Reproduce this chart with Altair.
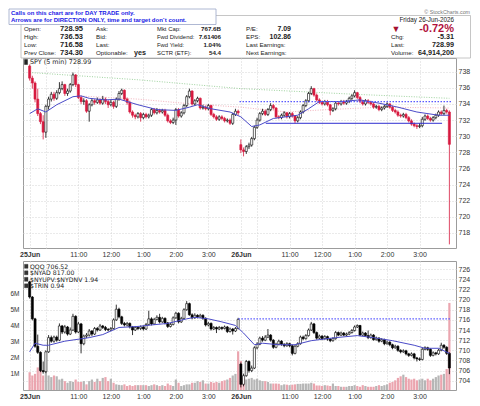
import altair as alt
import pandas as pd

# ---------------- data ----------------
N = 156  # 5-minute bars, 25 Jun + 26 Jun
spy_close = [
    737.2, 736.6, 734.6, 732.8, 731.8, 730.5, 733.7, 734.6, 735.2, 734.7, 735.4, 735.9,
    736.4, 735.3, 735.6, 736.4, 737.6, 736.4, 734.8, 734.3, 734.4, 733.1, 733.9, 734.4,
    734.2, 734.5, 734.1, 734.6, 734.3, 733.9, 734.2, 733.7, 734.6, 735.3, 735.7, 734.6,
    734.2, 733.0, 732.6, 732.4, 732.8, 732.3, 732.7, 732.4, 732.6, 733.3, 732.9, 733.2,
    733.0, 733.2, 732.6, 731.9, 731.7, 732.0, 733.3, 732.5, 732.9, 733.8, 734.9, 735.6,
    734.0, 734.4, 734.7, 733.5, 733.6, 733.4, 733.8, 732.7, 732.4, 732.1, 732.4, 732.2,
    731.9, 732.0, 731.6, 732.7, 733.1, 732.9,
    728.3, 728.1, 728.7, 728.9, 729.7, 731.1, 732.0, 732.8, 733.1, 732.7, 733.3, 733.8,
    733.5, 732.4, 732.3, 732.6, 732.9, 732.4, 732.8, 732.5, 731.9, 732.3, 733.0, 733.8,
    734.4, 735.3, 735.9, 735.1, 734.5, 734.2, 734.0, 734.3, 733.9, 733.2, 733.4, 734.1,
    734.0, 734.3, 734.1, 734.3, 734.7, 735.0, 735.4, 734.8, 734.3, 734.0, 734.4, 734.2,
    734.0, 733.6, 733.7, 733.3, 733.5, 733.7, 734.0, 733.6, 733.2, 733.0, 732.6, 732.5,
    732.7, 732.3, 731.9, 731.5, 731.3, 731.2, 731.3, 732.1, 732.5, 732.2, 732.0, 732.3,
    732.6, 733.0, 732.8, 733.2, 733.0, 728.99]
spy_high = [
    738.9, 737.5, 736.8, 735.9, 733.0, 732.6, 733.9, 734.9, 735.5, 735.5, 735.7, 736.7,
    736.8, 736.5, 735.9, 736.6, 737.9, 737.7, 736.5, 735.0, 734.7, 734.6, 734.1, 734.7,
    734.6, 734.8, 734.7, 735.0, 734.8, 734.5, 734.5, 734.4, 734.8, 735.6, 735.9, 735.8,
    734.8, 734.4, 733.2, 732.8, 733.0, 733.0, 732.9, 732.9, 732.8, 733.5, 733.5, 733.5,
    733.4, 733.4, 733.4, 732.8, 732.1, 732.3, 733.5, 733.5, 733.1, 734.0, 735.1, 735.9,
    735.7, 734.6, 734.9, 734.8, 733.9, 733.8, 734.0, 733.9, 732.9, 732.6, 732.6, 732.6,
    732.4, 732.2, 732.2, 732.9, 733.4, 733.3,
    729.6, 728.6, 728.9, 729.2, 729.9, 731.3, 732.3, 733.0, 733.4, 733.3, 733.5, 734.1,
    734.0, 733.6, 732.6, 732.8, 733.1, 733.0, 733.0, 733.0, 732.6, 732.5, 733.2, 734.0,
    734.6, 735.5, 736.2, 736.0, 735.3, 734.7, 734.4, 734.5, 734.5, 734.0, 733.6, 734.3,
    734.3, 734.5, 734.5, 734.5, 734.9, 735.2, 735.7, 735.5, 735.0, 734.5, 734.6, 734.6,
    734.4, 734.2, 733.9, 733.9, 733.7, 733.9, 734.2, 734.1, 733.8, 733.4, 733.2, 732.8,
    732.9, 732.9, 732.5, 732.1, 731.7, 731.5, 731.6, 732.4, 732.7, 732.7, 732.4, 732.5,
    732.8, 733.2, 733.2, 733.8, 733.4, 733.2]
spy_low = [
    736.9, 735.9, 734.2, 732.5, 731.5, 729.6, 729.8, 733.3, 734.3, 734.4, 734.5, 735.2,
    735.7, 735.0, 735.0, 735.4, 736.2, 736.1, 734.6, 734.0, 733.9, 732.9, 731.8, 733.7,
    733.9, 734.0, 733.9, 733.9, 734.0, 733.5, 733.7, 733.4, 733.5, 734.4, 735.1, 734.4,
    733.9, 732.8, 732.3, 732.1, 732.2, 731.8, 732.1, 732.2, 732.2, 732.4, 732.7, 732.7,
    732.8, 732.8, 732.4, 731.7, 731.5, 731.5, 731.4, 732.3, 732.3, 732.7, 733.6, 734.7,
    733.8, 733.8, 734.2, 733.3, 733.3, 733.2, 733.2, 732.5, 732.2, 731.9, 731.9, 732.0,
    731.7, 731.7, 731.4, 731.4, 732.5, 732.6,
    727.9, 727.5, 727.8, 728.4, 728.7, 729.5, 730.9, 731.8, 732.6, 732.5, 732.5, 733.1,
    733.3, 732.2, 732.1, 732.1, 732.4, 732.2, 732.2, 732.3, 731.6, 731.7, 732.1, 732.8,
    733.6, 734.2, 735.1, 734.9, 734.3, 734.0, 733.8, 733.8, 733.7, 732.6, 733.0, 733.2,
    733.8, 733.8, 733.9, 733.9, 734.1, 734.5, 734.8, 734.6, 734.1, 733.8, 733.8, 734.0,
    733.8, 733.4, 733.4, 733.1, 733.1, 733.3, 733.5, 733.4, 733.0, 732.8, 732.4, 732.3,
    732.3, 732.1, 731.7, 731.3, 731.1, 730.9, 731.0, 731.1, 731.9, 732.0, 731.8, 731.8,
    732.1, 732.4, 732.6, 732.6, 732.8, 716.58]
spy_first_open = 738.7
spy_gap_open = {78: 728.95}

qqq_close = [
    720.5, 716.2, 710.8, 709.6, 706.0, 705.8, 709.7, 712.5, 711.8, 712.6, 712.0, 714.8,
    713.6, 714.6, 713.2, 714.0, 716.7, 713.6, 715.2, 711.3, 712.8, 713.0, 713.8, 713.2,
    714.3, 714.0, 714.8, 714.5, 714.1, 714.0, 714.3, 716.0, 718.1, 716.6, 715.3, 715.0,
    715.3, 714.6, 714.0, 714.5, 714.3, 714.6, 714.2, 715.1, 716.2, 715.2, 716.1, 716.5,
    715.6, 716.3, 715.4, 714.7, 715.1, 716.4, 717.3, 715.6, 716.3, 718.0, 719.2, 717.0,
    716.4, 716.9, 716.6, 716.9, 716.3, 715.0, 715.3, 714.2, 714.5, 714.2, 714.5, 714.3,
    714.6, 713.7, 714.2, 713.8, 714.3, 716.1,
    703.3, 705.0, 707.8, 706.0, 706.5, 710.5, 711.2, 712.4, 712.0, 712.6, 713.0, 712.0,
    710.6, 711.2, 711.8, 711.2, 710.9, 711.3, 710.9, 709.4, 710.8, 711.3, 712.6, 712.3,
    712.9, 714.0, 715.2, 713.5, 712.4, 712.8, 712.3, 712.7, 712.2, 711.9, 712.3, 713.5,
    713.0, 713.4, 713.0, 713.2, 713.5, 713.9, 714.6, 714.9, 713.0, 713.4, 712.9, 712.5,
    713.0, 712.1, 712.4, 711.8, 712.1, 711.3, 711.6, 711.1, 710.5, 710.8, 710.0, 709.7,
    709.9, 709.3, 709.0, 709.3, 708.5, 708.3, 708.2, 710.2, 710.5, 710.2, 709.0, 709.5,
    709.3, 710.0, 711.0, 710.6, 709.4, 706.52]
qqq_high = [
    723.7, 720.7, 716.4, 713.1, 709.8, 707.8, 710.0, 713.0, 712.9, 712.9, 712.9, 715.3,
    715.0, 715.0, 714.8, 714.5, 717.2, 716.9, 715.6, 715.4, 713.1, 713.4, 714.2, 714.0,
    714.6, 714.6, 715.2, 715.0, 714.8, 714.4, 714.6, 716.3, 719.0, 718.4, 716.8, 715.6,
    715.6, 715.5, 714.8, 714.8, 714.8, 714.9, 714.9, 715.4, 717.8, 716.5, 716.4, 716.9,
    717.2, 716.6, 716.5, 715.6, 715.4, 716.7, 717.6, 717.5, 716.6, 718.3, 719.7, 719.4,
    717.3, 717.3, 717.1, 717.2, 717.1, 716.5, 715.6, 715.5, 714.8, 714.7, 714.8, 714.7,
    714.9, 714.8, 714.5, 714.4, 714.6, 716.4,
    707.6, 705.4, 708.1, 708.0, 707.0, 710.8, 711.6, 712.7, 712.8, 713.0, 714.2, 713.2,
    712.2, 711.5, 712.1, 712.0, 711.4, 711.6, 711.5, 711.1, 711.1, 711.6, 712.9, 712.9,
    713.2, 714.3, 715.6, 715.4, 713.7, 713.1, 713.0, 713.0, 712.9, 712.4, 712.6, 713.8,
    713.7, 713.7, 713.6, 713.5, 713.8, 714.2, 714.9, 715.1, 715.0, 713.7, 713.6, 713.9,
    713.3, 713.2, 712.7, 712.6, 712.4, 712.3, 711.9, 711.8, 711.3, 711.1, 711.0, 710.2,
    710.2, 710.1, 709.5, 709.6, 709.5, 708.7, 708.6, 710.5, 710.8, 710.7, 710.4, 709.8,
    709.7, 710.3, 711.5, 711.2, 710.8, 709.6]
qqq_low = [
    720.2, 715.9, 710.5, 709.3, 705.7, 705.4, 705.5, 709.5, 711.5, 711.5, 711.7, 711.8,
    713.2, 713.3, 712.9, 713.0, 713.8, 713.3, 713.4, 709.4, 711.0, 712.4, 712.7, 712.8,
    713.0, 713.7, 713.8, 714.2, 713.8, 713.7, 713.8, 714.1, 715.8, 716.3, 715.0, 714.7,
    714.7, 714.3, 713.0, 713.8, 714.0, 714.0, 713.9, 714.0, 714.9, 714.9, 715.0, 715.9,
    715.3, 715.4, 715.1, 714.4, 714.5, 714.9, 716.2, 715.3, 715.4, 716.1, 717.8, 716.8,
    716.1, 716.2, 716.3, 716.4, 716.0, 714.7, 714.7, 713.9, 714.0, 713.4, 714.0, 714.0,
    714.1, 713.4, 713.5, 713.1, 713.6, 714.1,
    702.7, 702.9, 704.8, 705.6, 705.7, 706.3, 710.2, 711.0, 711.7, 711.8, 712.4, 711.7,
    710.3, 710.4, 711.0, 710.9, 710.6, 710.7, 710.6, 709.0, 709.2, 710.6, 711.1, 712.0,
    712.1, 712.7, 713.8, 713.2, 712.1, 712.2, 712.0, 712.1, 711.9, 711.6, 711.7, 712.1,
    712.8, 712.8, 712.8, 712.8, 713.0, 713.3, 713.7, 714.4, 712.8, 712.8, 712.7, 712.2,
    712.3, 711.9, 711.9, 711.5, 711.6, 711.0, 711.1, 710.8, 710.2, 710.3, 709.7, 709.4,
    709.5, 709.0, 708.7, 708.8, 708.2, 707.8, 707.9, 708.0, 710.0, 709.9, 708.7, 708.8,
    709.0, 709.1, 709.8, 710.3, 709.1, 705.3]
qqq_first_open = 723.5
qqq_gap_open = {78: 707.3}

spy_volume_m = [
    1.1, 0.9, 1.0, 1.4, 1.2, 0.9, 1.1, 0.9, 0.8, 0.9, 0.85, 0.65,
    0.7, 0.55, 0.45, 0.55, 0.5, 0.65, 0.5, 0.5, 0.55, 0.35, 0.55, 0.65,
    0.5, 0.7, 0.55, 0.75, 0.8, 0.55, 0.7, 0.45, 0.35, 0.32, 0.3, 0.35,
    0.25, 0.3, 0.25, 0.3, 0.3, 0.3, 0.3, 0.3, 0.25, 0.3, 0.35, 0.3,
    0.25, 0.3, 0.25, 0.4, 0.3, 0.25, 0.65, 0.45, 0.25, 0.3, 0.35, 0.35,
    0.45, 0.45, 0.55, 0.5, 0.6, 0.4, 0.4, 0.5, 0.45, 0.5, 0.45, 0.55,
    0.6, 0.65, 0.75, 0.9, 1.0, 2.4,
    1.8, 0.75, 0.65, 0.7, 0.75, 0.65, 0.7, 0.6, 0.55, 0.55, 0.5, 0.4,
    0.4, 0.4, 0.38, 0.3, 0.35, 0.33, 0.3, 0.33, 0.35, 0.38, 0.38, 0.4,
    0.4, 0.4, 0.45, 0.4, 0.28, 0.28, 0.25, 0.3, 0.28, 0.25, 0.4, 0.25,
    0.25, 0.2, 0.2, 0.2, 0.25, 0.25, 0.3, 0.25, 0.2, 0.3, 0.25, 0.2,
    0.2, 0.2, 0.25, 0.3, 0.25, 0.3, 0.35, 0.45, 0.5, 0.6, 0.75, 0.85,
    0.95, 0.8, 0.7, 0.65, 0.7, 0.6, 0.65, 0.7, 0.6, 0.7, 0.6, 0.7,
    0.8, 0.9, 0.95, 1.0, 1.3, 5.4]

spy_ma_idx = [0, 3, 6, 10, 16, 19, 22, 28, 33, 40, 47, 54, 59, 62, 67, 74, 78, 82, 85,
              90, 99, 103, 107, 115, 122, 129, 136, 143, 151, 155]
spy_ma_val = [732.8, 733.4, 733.0, 733.9, 734.9, 735.0, 734.7, 734.5, 734.6, 733.9, 733.3,
              733.2, 733.6, 733.9, 733.4, 733.0, 732.4, 731.2, 731.4, 732.2, 732.6, 733.4,
              734.3, 734.3, 734.5, 734.1, 733.6, 733.0, 732.6, 732.6]
spy_ma_long_idx = [0, 40, 78, 120, 155]
spy_ma_long_val = [737.9, 737.0, 735.9, 735.2, 734.7]
spy_ma_mid_idx = [18, 40, 60, 78, 95, 110, 130, 155]
spy_ma_mid_val = [735.0, 734.6, 734.0, 733.6, 733.0, 733.3, 733.6, 733.5]
qqq_ma_idx = [0, 2, 5, 7, 13, 22, 27, 33, 40, 45, 51, 58, 61, 66, 71, 76, 79, 83, 86,
              92, 98, 104, 113, 121, 127, 134, 142, 146, 151, 155]
qqq_ma_val = [709.7, 711.4, 711.0, 711.0, 711.8, 712.5, 713.1, 714.5, 714.7, 715.0, 715.3,
              716.2, 716.5, 716.2, 715.6, 714.9, 713.4, 711.1, 711.4, 711.1, 711.1, 711.9,
              712.5, 712.9, 712.5, 711.9, 711.0, 710.4, 710.4, 709.4]

spy_prev_close = 734.30
spy_support = 731.6
qqq_prev_close = 716.2
prev_line_start = 77.5
support_start, support_end = 87.2, 152.3

tick_vals = [0, 6, 18, 30, 42, 54, 66, 78, 84, 96, 108, 120, 132, 144]
tick_labels = ["25Jun", "", "11:00", "12:00", "1:00", "2:00", "3:00",
               "26Jun", "", "11:00", "12:00", "1:00", "2:00", "3:00"]

notice_lines = ["Calls on this chart are for DAY TRADE only.",
                "Arrows are for DIRECTION ONLY, time and target don`t count."]
col1_labels = ["Open:", "High:", "Low:", "Prev Close:"]
col1_values = ["728.95", "736.53", "716.58", "734.30"]
col2_labels = ["Ask:", "Bid:", "Last:", "Optionable:"]
col2_values = ["", "", "", "yes"]
col3_labels = ["Mkt Cap:", "Fwd Dividend:", "Fwd Yield:", "SCTR (ETF):"]
col3_values = ["767.6B", "7.61406", "1.04%", "54.4"]
col4_labels = ["P/E:", "EPS:", "Last Earnings:", "Next Earnings:"]
col4_values = ["7.09", "102.86", "", ""]
right_labels = ["", "Chg:", "Last:", "Volume:"]
right_values = ["-0.72%", "-5.31", "728.99", "64,914,200"]
date_text = "Friday  26-Jun-2026"
credit_text = "\u00a9 StockCharts.com"
spy_legend = "SPY (5 min) 728.99"
qqq_legends = ["QQQ 706.52", "$NYAD 817.00", "$NYUPV:$NYDNV 1.94", "$TRIN 0.94"]

# ---------------- build tables ----------------
RED = "#d61a3f"
PINK = "#eba5af"
GRAY = "#b6b6b6"
MA_BLUE = "#4b4bc8"


def ohlc(close, high, low, first_open, gap_open, down_fill, down_stroke):
    rows = []
    for i in range(N):
        o = gap_open.get(i, first_open if i == 0 else close[i - 1])
        c = close[i]
        up = c >= o
        rows.append(dict(i=i, o=o, c=c, h=max(high[i], o, c), l=min(low[i], o, c),
                         fill="white" if up else down_fill,
                         stroke="black" if up else down_stroke))
    return pd.DataFrame(rows)


spy = ohlc(spy_close, spy_high, spy_low, spy_first_open, spy_gap_open, RED, RED)
spy["v"] = spy_volume_m
spy["vc"] = [GRAY if f == "white" else PINK for f in spy["fill"]]
qqq = ohlc(qqq_close, qqq_high, qqq_low, qqq_first_open, qqq_gap_open, "black", "black")

one = pd.DataFrame({"k": [0]})

label_expr = " : ".join(f"datum.value == {v} ? '{t}'" for v, t in zip(tick_vals, tick_labels)) + " : ''"
x_axis = alt.Axis(values=tick_vals, labelExpr=label_expr, grid=True, title=None,
                  labelOverlap=False, labelFlush=False, labelBound=False, labelPadding=2,
                  labelFontWeight={"condition": {"test": "datum.value == 0 || datum.value == 78",
                                                 "value": "bold"}, "value": "normal"})
X = alt.X("i:Q", scale=alt.Scale(domain=[-0.6, 155.6], nice=False, zero=False), axis=x_axis)

top_scale = alt.Scale(domain=[716.13, 739.7], nice=False, zero=False)
top_axis = alt.Axis(orient="right", values=list(range(718, 739, 2)), format="d",
                    grid=True, title=None, labelPadding=2)
bot_scale = alt.Scale(domain=[702.18, 727.6], nice=False, zero=False)
bot_axis = alt.Axis(orient="right", values=list(range(704, 727, 2)), format="d",
                    grid=True, title=None, labelPadding=2)
vol_scale = alt.Scale(domain=[0, 8], nice=False)
vol_axis = alt.Axis(orient="left", values=[1, 2, 3, 4, 5, 6], labelExpr="datum.value + 'M'",
                    grid=False, title=None, labelPadding=4, labelFontSize=6.5)


def txt(s, x, y, size=6.2, weight="normal", align="left", color="#222", font="Liberation Sans"):
    return alt.Chart(one).mark_text(text=s, fontSize=size, fontWeight=weight, align=align,
                                    baseline="middle", color=color, font=font).encode(
        x=alt.value(x), y=alt.value(y))


def box(x1, x2, y1, y2, fill="white", stroke="#b8b8b8", sw=0.8):
    return alt.Chart(one).mark_rect(fill=fill, stroke=stroke, strokeWidth=sw).encode(
        x=alt.value(x1), x2=alt.value(x2), y=alt.value(y1), y2=alt.value(y2))


def candles(df, yscale, yaxis, wick_w=0.8):
    Y = lambda f: alt.Y(f"{f}:Q", scale=yscale, axis=yaxis)
    wick = alt.Chart(df).mark_rule(strokeWidth=wick_w).encode(
        x=X, y=Y("l"), y2="h:Q", color=alt.Color("stroke:N", scale=None))
    body = alt.Chart(df).mark_bar(size=2.1, strokeWidth=0.6).encode(
        x=X, y=Y("o"), y2="c:Q", fill=alt.Fill("fill:N", scale=None),
        stroke=alt.Stroke("stroke:N", scale=None))
    return [wick, body]


def line(idx, vals, yscale, yaxis, color, width=1.0, dash=None):
    df = pd.DataFrame({"i": idx, "p": vals})
    kw = dict(color=color, strokeWidth=width)
    if dash:
        kw["strokeDash"] = dash
    return alt.Chart(df).mark_line(**kw).encode(x=X, y=alt.Y("p:Q", scale=yscale, axis=yaxis))


def hrule(x1, x2, val, yscale, yaxis, color, width=1.0, dash=None):
    df = pd.DataFrame({"i": [x1], "i2": [x2], "p": [val]})
    kw = dict(color=color, strokeWidth=width)
    if dash:
        kw["strokeDash"] = dash
    return alt.Chart(df).mark_rule(**kw).encode(
        x=X, x2="i2:Q", y=alt.Y("p:Q", scale=yscale, axis=yaxis))


# ---------------- top panel (SPY) ----------------
rows_y = [-29.0, -21.0, -13.0, -5.2]
hdr = [box(-2, 447.5, -42.5, 0, fill="white", stroke="#b8b8b8"),
       box(-14, 193, -49, -33.5, fill="white", stroke="#9aa6c8"),
       txt(notice_lines[0], -12, -45.0, size=6.0, weight="bold", color="#1a1ae6"),
       txt(notice_lines[1], -12, -37.8, size=6.0, weight="bold", color="#1a1ae6"),
       txt(credit_text, 447, -45.8, size=5.3, color="#777", align="right"),
       txt(date_text, 431, -38.0, size=6.3, align="right")]
for k in range(4):
    y = rows_y[k]
    hdr.append(txt(col1_labels[k], 1, y))
    hdr.append(txt(col1_values[k], 60, y, size=7.5, weight="bold", align="right"))
    hdr.append(txt(col2_labels[k], 73, y))
    if col2_values[k]:
        hdr.append(txt(col2_values[k], 111, y, size=7.2, weight="bold"))
    hdr.append(txt(col3_labels[k], 134, y, size=5.9))
    hdr.append(txt(col3_values[k], 198, y, size=6.2, weight="bold", align="right"))
    hdr.append(txt(col4_labels[k], 223, y))
    if col4_values[k]:
        hdr.append(txt(col4_values[k], 268, y, size=7.0, weight="bold", align="right"))
    if right_labels[k]:
        hdr.append(txt(right_labels[k], 368, y))
    if k == 0:
        hdr.append(txt("\u25bc", 373, y - 0.5, size=9, color="#a51030", align="center"))
        hdr.append(txt(right_values[k], 431, y - 0.5, size=11, weight="bold",
                       color="#b0103c", align="right"))
    else:
        hdr.append(txt(right_values[k], 431, y, size=7.2, weight="bold", align="right"))

top_layers = hdr + [
    line(spy_ma_long_idx, spy_ma_long_val, top_scale, top_axis, "#9fd39f", 1.0, [1, 1.5]),
    line(spy_ma_mid_idx, spy_ma_mid_val, top_scale, top_axis, "#f2b3bd", 1.0, [1, 1.5]),
] + candles(spy, top_scale, top_axis) + [
    line(spy_ma_idx, spy_ma_val, top_scale, top_axis, MA_BLUE, 1.0),
    hrule(prev_line_start, 155.6, spy_prev_close, top_scale, top_axis, "#5a5aff", 1.3, [1.5, 1.5]),
    hrule(support_start, support_end, spy_support, top_scale, top_axis, "#2e2ed0", 1.0),
    box(1.5, 4.5, 1.5, 6.5, fill="#222", stroke="#222", sw=0.5),
    txt(spy_legend, 7, 4.2, size=6.4, font="DejaVu Sans"),
]
top = alt.layer(*top_layers).properties(width=433, height=190)

# ---------------- bottom panel (QQQ + volume) ----------------
vol = alt.Chart(spy).mark_bar(size=2.2).encode(
    x=X, y=alt.Y("v:Q", scale=vol_scale, axis=vol_axis), color=alt.Color("vc:N", scale=None))
price_layers = candles(qqq, bot_scale, bot_axis) + [
    line(qqq_ma_idx, qqq_ma_val, bot_scale, bot_axis, MA_BLUE, 1.0),
    hrule(prev_line_start - 0.4, 155.6, qqq_prev_close, bot_scale, bot_axis, "#5a5aff", 1.3, [1.5, 1.5]),
    alt.Chart(one).mark_rule(color="white").encode(x=alt.value(-14), y=alt.value(60), y2=alt.value(61)),
]
for k, s in enumerate(qqq_legends):
    yy = 5.5 + 6.5 * k
    price_layers.append(box(1.5, 5, yy - 2.2, yy + 1.8, fill="#333", stroke="#333", sw=0.4))
    price_layers.append(txt(s, 7, yy, size=6.2, font="DejaVu Sans"))
price = alt.layer(*price_layers)
bottom = alt.layer(vol, price).resolve_scale(y="independent").properties(width=433, height=129)

chart = alt.vconcat(top, bottom, spacing=2).properties(
    padding=0, background="white"
).configure_view(
    stroke="#9c9c9c", strokeWidth=1
).configure_axis(
    labelFont="Liberation Sans", labelFontSize=7, labelColor="#333", domain=False,
    ticks=False, gridColor="#d4d4d4", gridDash=[1, 2], gridWidth=1
)

chart.save("out.html", embed_options={"renderer": "svg", "actions": False})
